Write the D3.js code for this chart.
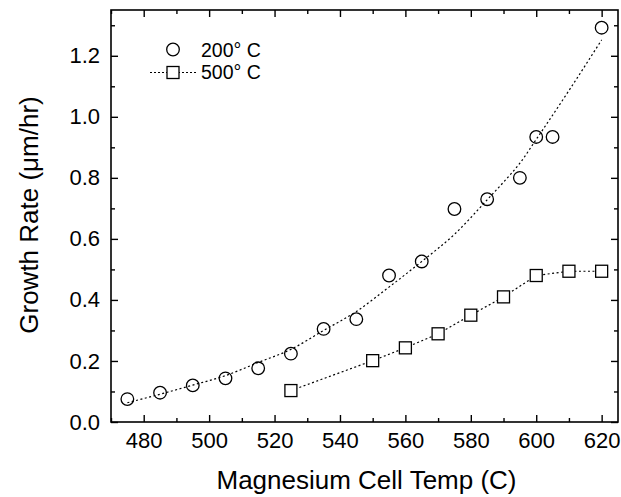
<!DOCTYPE html>
<html>
<head>
<meta charset="utf-8">
<script src="https://cdn.jsdelivr.net/npm/d3@7"></script>
<style>
  body { margin: 0; background: #fff; }
  svg text { font-family: "Liberation Sans", Arial, Helvetica, sans-serif; fill: #000; }
</style>
</head>
<body>
<svg id="chart" width="621" height="497"></svg>
<script>
// 200 C series (circles)
var temp200 = [475, 485, 495, 505, 515, 525, 535, 545, 555, 565, 575, 585, 595, 600, 605, 620];
var rate200 = [0.075, 0.096, 0.120, 0.143, 0.176, 0.224, 0.305, 0.337, 0.480, 0.526, 0.698, 0.730, 0.800, 0.934, 0.934, 1.292];

// fit curve through the 200 C points
var fitTemp = [475, 485, 495, 505, 515, 525, 535, 545, 555, 565, 575, 585, 590, 595, 600, 610, 620];
var fitRate = [0.063, 0.091, 0.121, 0.152, 0.195, 0.238, 0.300, 0.362, 0.442, 0.526, 0.615, 0.728, 0.786, 0.848, 0.926, 1.086, 1.252];

// 500 C series (squares)
var temp500 = [525, 550, 560, 570, 580, 590, 600, 610, 620];
var rate500 = [0.103, 0.201, 0.243, 0.289, 0.350, 0.410, 0.480, 0.494, 0.494];

var xMajor = [480, 500, 520, 540, 560, 580, 600, 620];
var yMajor = [0.0, 0.2, 0.4, 0.6, 0.8, 1.0, 1.2];
var xMinor = [470, 490, 510, 530, 550, 570, 590, 610];
var yMinor = [0.1, 0.3, 0.5, 0.7, 0.9, 1.1, 1.3];

var legendNames = ["200° C", "500° C"];

var svg = d3.select("#chart");

var pLeft = 111, pRight = 618, pTop = 10, pBottom = 422;

var x = d3.scaleLinear().domain([470, 625]).range([pLeft, pRight]);
var y = d3.scaleLinear().domain([0, 1.35]).range([pBottom, pTop]);

// axes, ticks pointing inward
var fmtY = d3.format(".1f");

svg.append("g")
  .attr("transform", "translate(0," + pBottom + ")")
  .call(d3.axisBottom(x).tickValues(xMajor).tickSizeInner(-7).tickSizeOuter(0).tickPadding(10))
  .call(g => g.selectAll("text").style("font-size", "22px"));
svg.append("g")
  .attr("transform", "translate(0," + pBottom + ")")
  .call(d3.axisBottom(x).tickValues(xMinor).tickSizeInner(-4).tickSizeOuter(0).tickFormat(""));

svg.append("g")
  .attr("transform", "translate(0," + pTop + ")")
  .call(d3.axisTop(x).tickValues(xMajor).tickSizeInner(-7).tickSizeOuter(0).tickFormat(""));
svg.append("g")
  .attr("transform", "translate(0," + pTop + ")")
  .call(d3.axisTop(x).tickValues(xMinor).tickSizeInner(-4).tickSizeOuter(0).tickFormat(""));

svg.append("g")
  .attr("transform", "translate(" + pLeft + ",0)")
  .call(d3.axisLeft(y).tickValues(yMajor).tickFormat(fmtY).tickSizeInner(-7).tickSizeOuter(0).tickPadding(11))
  .call(g => g.selectAll("text").style("font-size", "22px"));
svg.append("g")
  .attr("transform", "translate(" + pLeft + ",0)")
  .call(d3.axisLeft(y).tickValues(yMinor).tickSizeInner(-4).tickSizeOuter(0).tickFormat(""));

svg.append("g")
  .attr("transform", "translate(" + pRight + ",0)")
  .call(d3.axisRight(y).tickValues(yMajor).tickSizeInner(-7).tickSizeOuter(0).tickFormat(""));
svg.append("g")
  .attr("transform", "translate(" + pRight + ",0)")
  .call(d3.axisRight(y).tickValues(yMinor).tickSizeInner(-4).tickSizeOuter(0).tickFormat(""));

svg.selectAll(".domain").remove();
svg.selectAll(".tick line").attr("stroke", "#000").attr("stroke-width", 1.4);

// frame
svg.append("rect")
  .attr("x", pLeft).attr("y", pTop)
  .attr("width", pRight - pLeft).attr("height", pBottom - pTop)
  .attr("fill", "none").attr("stroke", "#000").attr("stroke-width", 1.6);

// lines
svg.append("path")
  .datum(d3.zip(fitTemp, fitRate))
  .attr("d", d3.line().x(d => x(d[0])).y(d => y(d[1])).curve(d3.curveMonotoneX))
  .attr("fill", "none").attr("stroke", "#000")
  .attr("stroke-width", 1.2).attr("stroke-dasharray", "2,2.5");

svg.append("path")
  .datum(d3.zip(temp500, rate500))
  .attr("d", d3.line().x(d => x(d[0])).y(d => y(d[1])))
  .attr("fill", "none").attr("stroke", "#000")
  .attr("stroke-width", 1.2).attr("stroke-dasharray", "2,2.5");

// markers
svg.append("g").selectAll("circle")
  .data(d3.zip(temp200, rate200))
  .join("circle")
  .attr("cx", d => x(d[0])).attr("cy", d => y(d[1]))
  .attr("r", 6.3)
  .attr("fill", "none").attr("stroke", "#000").attr("stroke-width", 1.3);

var sq = 12;
svg.append("g").selectAll("rect")
  .data(d3.zip(temp500, rate500))
  .join("rect")
  .attr("x", d => x(d[0]) - sq / 2).attr("y", d => y(d[1]) - sq / 2)
  .attr("width", sq).attr("height", sq)
  .attr("fill", "#fff").attr("stroke", "#000").attr("stroke-width", 1.3);

// legend
var leg = svg.append("g");
leg.append("circle")
  .attr("cx", 173).attr("cy", 49.5).attr("r", 6.3)
  .attr("fill", "none").attr("stroke", "#000").attr("stroke-width", 1.3);
leg.append("line")
  .attr("x1", 150).attr("x2", 197).attr("y1", 72.5).attr("y2", 72.5)
  .attr("stroke", "#000").attr("stroke-width", 1.2).attr("stroke-dasharray", "2,2");
leg.append("rect")
  .attr("x", 173 - sq / 2).attr("y", 72.5 - sq / 2)
  .attr("width", sq).attr("height", sq)
  .attr("fill", "#fff").attr("stroke", "#000").attr("stroke-width", 1.3);
leg.selectAll("text")
  .data(legendNames)
  .join("text")
  .attr("x", 201).attr("y", (d, i) => 56.5 + i * 22.5)
  .style("font-size", "19.5px")
  .text(d => d);

// axis titles
svg.append("text")
  .attr("x", (pLeft + pRight) / 2 + 2).attr("y", 489)
  .attr("text-anchor", "middle")
  .style("font-size", "26px")
  .text("Magnesium Cell Temp (C)");

svg.append("text")
  .attr("transform", "translate(38," + ((pTop + pBottom) / 2 - 1) + ") rotate(-90)")
  .attr("text-anchor", "middle")
  .style("font-size", "26px")
  .text("Growth Rate (μm/hr)");
</script>
</body>
</html>
